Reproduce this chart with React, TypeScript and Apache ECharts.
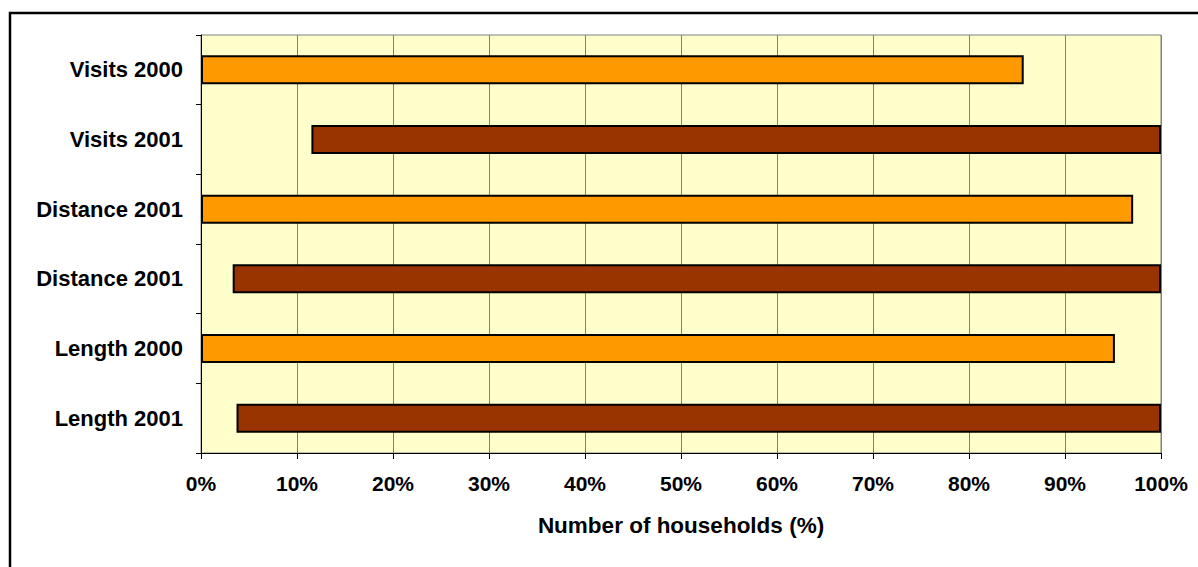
import React, { useEffect, useRef } from "react";
import * as echarts from "echarts";

const categories = [
  "Visits 2000",
  "Visits 2001",
  "Distance 2001",
  "Distance 2001",
  "Length 2000",
  "Length 2001",
];
// transparent offset before the dark bars (percent)
const offsetValues = [0, 11.5, 0, 3.3, 0, 3.7];
// orange bars (percent length from 0)
const orangeValues: (number | string)[] = [85.7, "-", 97.1, "-", 95.2, "-"];
// dark bars (percent length after the offset)
const darkValues: (number | string)[] = ["-", 88.5, "-", 96.7, "-", 96.3];
const xTicks = { min: 0, max: 100, interval: 10 };
const axisTitle = "Number of households (%)";

const FONT = "'Liberation Sans', Arial, sans-serif";

export default function App() {
  const ref = useRef<HTMLDivElement>(null);
  useEffect(() => {
    if (!ref.current) return;
    const chart = echarts.init(ref.current, null, { renderer: "svg" });
    chart.setOption({
      animation: false,
      backgroundColor: "#ffffff",
      grid: {
        left: 201,
        top: 35,
        width: 960,
        height: 418,
        show: true,
        backgroundColor: "#FFFFCC",
        borderColor: "#808080",
        borderWidth: 1,
        containLabel: false,
      },
      graphic: [
        {
          type: "rect",
          shape: { x: 10, y: 13, width: 1210, height: 600 },
          style: { fill: "none", stroke: "#000000", lineWidth: 2.5 },
          silent: true,
        },
      ],
      xAxis: {
        type: "value",
        min: xTicks.min,
        max: xTicks.max,
        interval: xTicks.interval,
        name: axisTitle,
        nameLocation: "middle",
        nameGap: 61,
        nameTextStyle: {
          fontFamily: FONT,
          fontWeight: "bold",
          fontSize: 22.5,
          color: "#000000",
        },
        axisLine: { show: true, lineStyle: { color: "#000000", width: 1 } },
        axisTick: { show: true, length: 6, lineStyle: { color: "#000000" } },
        axisLabel: {
          formatter: "{value}%",
          margin: 20,
          fontFamily: FONT,
          fontWeight: "bold",
          fontSize: 21,
          color: "#000000",
        },
        splitLine: { show: true, lineStyle: { color: "#808080", width: 1 } },
      },
      yAxis: {
        type: "category",
        inverse: true,
        data: categories,
        axisLine: { show: true, lineStyle: { color: "#000000", width: 1 } },
        axisTick: { show: true, length: 5, lineStyle: { color: "#000000" } },
        axisLabel: {
          margin: 18,
          fontFamily: FONT,
          fontWeight: "bold",
          fontSize: 22,
          color: "#000000",
        },
        splitLine: { show: false },
      },
      series: [
        {
          type: "bar",
          stack: "s",
          data: offsetValues,
          barWidth: 29,
          itemStyle: { color: "transparent", borderWidth: 0 },
          silent: true,
        },
        {
          type: "bar",
          stack: "s",
          data: orangeValues,
          barWidth: 29,
          itemStyle: { color: "#FF9900", borderColor: "#000000", borderWidth: 2 },
        },
        {
          type: "bar",
          stack: "s",
          data: darkValues,
          barWidth: 29,
          itemStyle: { color: "#993300", borderColor: "#000000", borderWidth: 2 },
        },
      ],
    });
    return () => chart.dispose();
  }, []);
  return (
    <div
      ref={ref}
      style={{ position: "fixed", left: 0, top: 0, width: 1198, height: 567 }}
    />
  );
}
